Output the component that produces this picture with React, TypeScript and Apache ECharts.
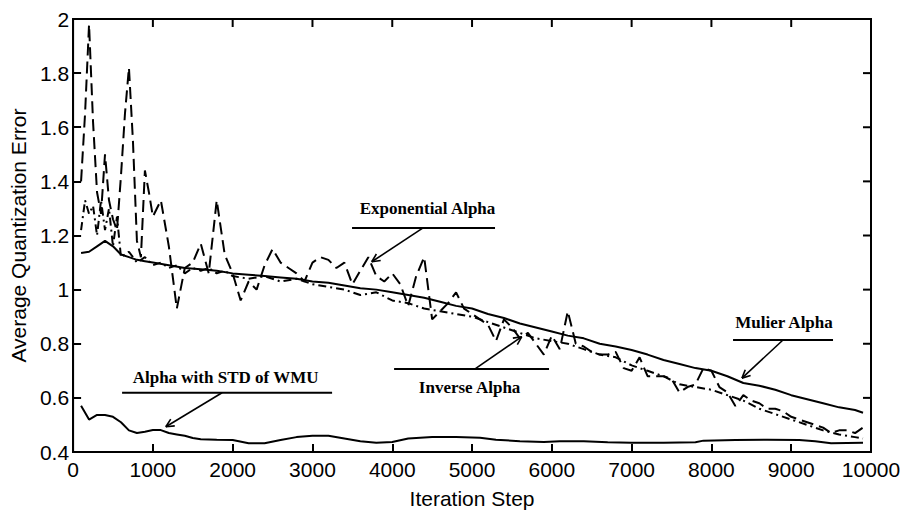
import React, { useEffect, useRef } from "react";
import * as echarts from "echarts";

// ---------- data ----------
const expX = [100, 150, 200, 250, 300, 350, 400, 450, 500, 550, 600, 650, 700, 750, 800, 850, 900, 950, 1000, 1100, 1200, 1300, 1400, 1500, 1600, 1700, 1800, 1900, 2000, 2100, 2200, 2300, 2400, 2500, 2600, 2700, 2800, 2900, 3000, 3100, 3200, 3300, 3400, 3500, 3600, 3700, 3800, 3900, 4000, 4100, 4200, 4300, 4400, 4500, 4600, 4700, 4800, 4900, 5000, 5100, 5200, 5300, 5400, 5500, 5600, 5700, 5800, 5900, 6000, 6100, 6200, 6300, 6400, 6500, 6600, 6700, 6800, 6900, 7000, 7100, 7200, 7300, 7400, 7500, 7600, 7700, 7800, 7900, 8000, 8100, 8200, 8300, 8400, 8500, 8600, 8700, 8800, 8900, 9000, 9100, 9200, 9300, 9400, 9500, 9600, 9700, 9800, 9900];
const expY = [1.40, 1.65, 1.98, 1.62, 1.36, 1.28, 1.50, 1.33, 1.26, 1.22, 1.42, 1.65, 1.82, 1.55, 1.18, 1.12, 1.44, 1.36, 1.27, 1.33, 1.16, 0.93, 1.08, 1.10, 1.17, 1.06, 1.33, 1.13, 1.06, 0.96, 1.03, 1.00, 1.09, 1.15, 1.10, 1.08, 1.06, 1.03, 1.10, 1.12, 1.11, 1.08, 1.10, 1.02, 1.07, 1.12, 1.05, 1.03, 1.06, 1.02, 0.94, 1.05, 1.12, 0.89, 0.92, 0.95, 0.99, 0.93, 0.91, 0.89, 0.87, 0.81, 0.89, 0.86, 0.82, 0.84, 0.80, 0.76, 0.83, 0.78, 0.92, 0.80, 0.79, 0.77, 0.76, 0.76, 0.77, 0.71, 0.70, 0.75, 0.68, 0.68, 0.68, 0.67, 0.62, 0.64, 0.65, 0.71, 0.70, 0.64, 0.62, 0.57, 0.61, 0.59, 0.58, 0.56, 0.56, 0.55, 0.53, 0.52, 0.51, 0.50, 0.49, 0.47, 0.48, 0.48, 0.47, 0.49];

const invX = [100, 150, 200, 250, 300, 350, 400, 450, 500, 550, 600, 700, 800, 900, 1000, 1100, 1200, 1300, 1400, 1500, 1600, 1700, 1800, 1900, 2000, 2200, 2400, 2600, 2800, 3000, 3200, 3400, 3600, 3800, 4000, 4200, 4400, 4600, 4800, 5000, 5200, 5400, 5600, 5800, 6000, 6200, 6400, 6600, 6800, 7000, 7200, 7400, 7600, 7800, 8000, 8200, 8400, 8600, 8800, 9000, 9200, 9400, 9600, 9800, 9900];
const invY = [1.22, 1.33, 1.28, 1.31, 1.20, 1.33, 1.22, 1.30, 1.16, 1.27, 1.12, 1.14, 1.10, 1.12, 1.09, 1.10, 1.08, 1.09, 1.06, 1.08, 1.07, 1.08, 1.06, 1.07, 1.05, 1.04, 1.05, 1.03, 1.04, 1.02, 1.01, 1.00, 0.98, 0.99, 0.96, 0.95, 0.93, 0.92, 0.91, 0.90, 0.88, 0.86, 0.84, 0.82, 0.81, 0.80, 0.78, 0.76, 0.75, 0.72, 0.70, 0.68, 0.65, 0.64, 0.63, 0.61, 0.59, 0.56, 0.54, 0.52, 0.50, 0.48, 0.465, 0.455, 0.45];

const mulX = [100, 200, 300, 400, 500, 600, 700, 800, 900, 1000, 1200, 1400, 1600, 1800, 2000, 2200, 2400, 2600, 2800, 3000, 3200, 3400, 3600, 3800, 4000, 4200, 4400, 4600, 4800, 5000, 5200, 5400, 5600, 5800, 6000, 6200, 6400, 6600, 6800, 7000, 7200, 7400, 7600, 7800, 8000, 8200, 8400, 8600, 8800, 9000, 9200, 9400, 9600, 9800, 9900];
const mulY = [1.135, 1.14, 1.16, 1.18, 1.16, 1.13, 1.12, 1.11, 1.105, 1.10, 1.09, 1.08, 1.075, 1.07, 1.06, 1.055, 1.05, 1.045, 1.04, 1.03, 1.025, 1.015, 1.005, 1.0, 0.99, 0.98, 0.97, 0.955, 0.94, 0.93, 0.91, 0.895, 0.875, 0.86, 0.845, 0.83, 0.82, 0.80, 0.79, 0.777, 0.76, 0.74, 0.725, 0.71, 0.70, 0.68, 0.655, 0.645, 0.63, 0.61, 0.595, 0.58, 0.565, 0.555, 0.545];

const stdX = [100, 200, 300, 400, 500, 600, 700, 800, 900, 1000, 1100, 1200, 1300, 1400, 1500, 1600, 1800, 2000, 2200, 2400, 2600, 2800, 3000, 3200, 3400, 3600, 3800, 4000, 4200, 4500, 4800, 5100, 5300, 5600, 5900, 6100, 6400, 6700, 7000, 7400, 7800, 7900, 8300, 8700, 9100, 9300, 9500, 9900];
const stdY = [0.571, 0.52, 0.537, 0.537, 0.53, 0.51, 0.48, 0.47, 0.475, 0.481, 0.481, 0.47, 0.465, 0.46, 0.452, 0.447, 0.445, 0.444, 0.432, 0.432, 0.444, 0.455, 0.46, 0.46, 0.45, 0.44, 0.434, 0.437, 0.45, 0.455, 0.455, 0.453, 0.445, 0.44, 0.437, 0.44, 0.44, 0.436, 0.434, 0.434, 0.436, 0.442, 0.444, 0.445, 0.444, 0.44, 0.432, 0.434];

const xTicks = { min: 0, max: 10000, interval: 1000 };
const yTicks = { min: 0.4, max: 2, interval: 0.2 };

// annotation labels: text centre, underline (x0, x1, y), arrow (from -> tip), in data units
const annTexts = ["Exponential Alpha", "Inverse Alpha", "Mulier Alpha", "Alpha with STD of WMU"];
const annTextPos = [[4442, 1.298], [4969, 0.640], [8910, 0.878], [1911, 0.677]];
const annLines = [[3496, 5288, 1.228], [4023, 5965, 0.707], [8271, 9524, 0.814], [614, 3246, 0.619]];
const annArrows = [
  [[4386, 1.228], [3743, 1.103]],
  [[5038, 0.707], [5623, 0.826]],
  [[8897, 0.814], [8383, 0.673]],
  [[1867, 0.619], [1162, 0.4935]],
];

const sans = '"Liberation Sans", Arial, sans-serif';
const serif = '"Liberation Serif", "Times New Roman", serif';

const zip = (xs: number[], ys: number[]) => xs.map((x, i) => [x, ys[i]]);

export default function App() {
  const ref = useRef<HTMLDivElement>(null);
  useEffect(() => {
    if (!ref.current) return;
    const chart = echarts.init(ref.current, null, { renderer: "svg" });
    const mkLine = () => ({ show: true, onZero: false, lineStyle: { color: "#000", width: 2 } });
    const mkTick = () => ({ show: true, inside: true, length: 8, lineStyle: { color: "#000", width: 2 } });
    const lineSeries = (name: string, data: number[][], type: any) => ({
      name,
      type: "line",
      data,
      showSymbol: false,
      symbol: "none",
      lineStyle: { color: "#000", width: 2, type },
      z: 3,
    });
    chart.setOption({
      animation: false,
      grid: { left: 73, right: 33, top: 19, bottom: 63 },
      xAxis: {
        type: "value",
        ...xTicks,
        name: "Iteration Step",
        nameLocation: "middle",
        nameGap: 36,
        nameTextStyle: { fontSize: 21, color: "#000", fontFamily: sans },
        axisLine: mkLine(),
        axisTick: mkTick(),
        axisLabel: { fontSize: 21, color: "#000", fontFamily: sans, margin: 7, formatter: (v: number) => String(v) },
        splitLine: { show: false },
      },
      yAxis: {
        type: "value",
        ...yTicks,
        name: "Average Quantization Error",
        nameLocation: "middle",
        nameGap: 40,
        nameTextStyle: { fontSize: 21, color: "#000", fontFamily: sans },
        axisLine: mkLine(),
        axisTick: mkTick(),
        axisLabel: { fontSize: 21, color: "#000", fontFamily: sans, margin: 4, formatter: (v: number) => String(Math.round(v * 10) / 10) },
        splitLine: { show: false },
      },
      series: [
        lineSeries("Exponential Alpha", zip(expX, expY), [12, 6]),
        lineSeries("Inverse Alpha", zip(invX, invY), [8, 4, 2, 4]),
        lineSeries("Mulier Alpha", zip(mulX, mulY), "solid"),
        lineSeries("Alpha with STD of WMU", zip(stdX, stdY), "solid"),
      ],
    });

    const px = (p: number[]) => chart.convertToPixel({ xAxisIndex: 0, yAxisIndex: 0 }, p) as number[];
    const graphics: any[] = [];
    const st = (w = 2) => ({ stroke: "#000", lineWidth: w, fill: null });

    const tl = px([xTicks.min, yTicks.max]);
    const br = px([xTicks.max, yTicks.min]);
    const left = tl[0], top = tl[1], right = br[0], bottom = br[1];
    // frame as one rectangle outline
    graphics.push({
      type: "rect",
      shape: { x: left, y: top, width: right - left, height: bottom - top },
      style: { fill: "none", stroke: "#000", lineWidth: 2 },
      z: 100,
    });
    // mirrored ticks (top and right) as one polyline each per tick
    for (let k = 1; k < 10; k++) {
      const x = px([xTicks.min + k * xTicks.interval, yTicks.max])[0];
      graphics.push({ type: "polyline", shape: { points: [[x, top], [x, top + 8]] }, style: st(), z: 100 });
    }
    for (let k = 1; k < 8; k++) {
      const y = px([xTicks.max, yTicks.min + k * yTicks.interval])[1];
      graphics.push({ type: "polyline", shape: { points: [[right - 8, y], [right, y]] }, style: st(), z: 100 });
    }

    annTexts.forEach((t, i) => {
      const c = px(annTextPos[i]);
      graphics.push({
        type: "text",
        x: c[0],
        y: c[1],
        style: {
          text: t,
          font: `bold 17px ${serif}`,
          fill: "#000",
          align: "center",
          verticalAlign: "middle",
        },
      });
      const [x0, x1, ly] = annLines[i];
      const a = px([x0, ly]);
      const b = px([x1, ly]);
      graphics.push({ type: "line", shape: { x1: a[0], y1: a[1], x2: b[0], y2: b[1] }, style: st() });
      const f = px(annArrows[i][0]);
      const tip = px(annArrows[i][1]);
      graphics.push({ type: "line", shape: { x1: f[0], y1: f[1], x2: tip[0], y2: tip[1] }, style: st(1.6) });
      const ang = Math.atan2(f[1] - tip[1], f[0] - tip[0]);
      const hl = 9;
      [0.45, -0.45].forEach((d) => {
        graphics.push({
          type: "line",
          shape: { x1: tip[0], y1: tip[1], x2: tip[0] + hl * Math.cos(ang + d), y2: tip[1] + hl * Math.sin(ang + d) },
          style: st(1.6),
        });
      });
    });
    chart.setOption({ graphic: graphics });
    return () => chart.dispose();
  }, []);
  return <div ref={ref} style={{ position: "absolute", left: 0, top: 0, width: 904, height: 515, background: "#fff" }} />;
}
